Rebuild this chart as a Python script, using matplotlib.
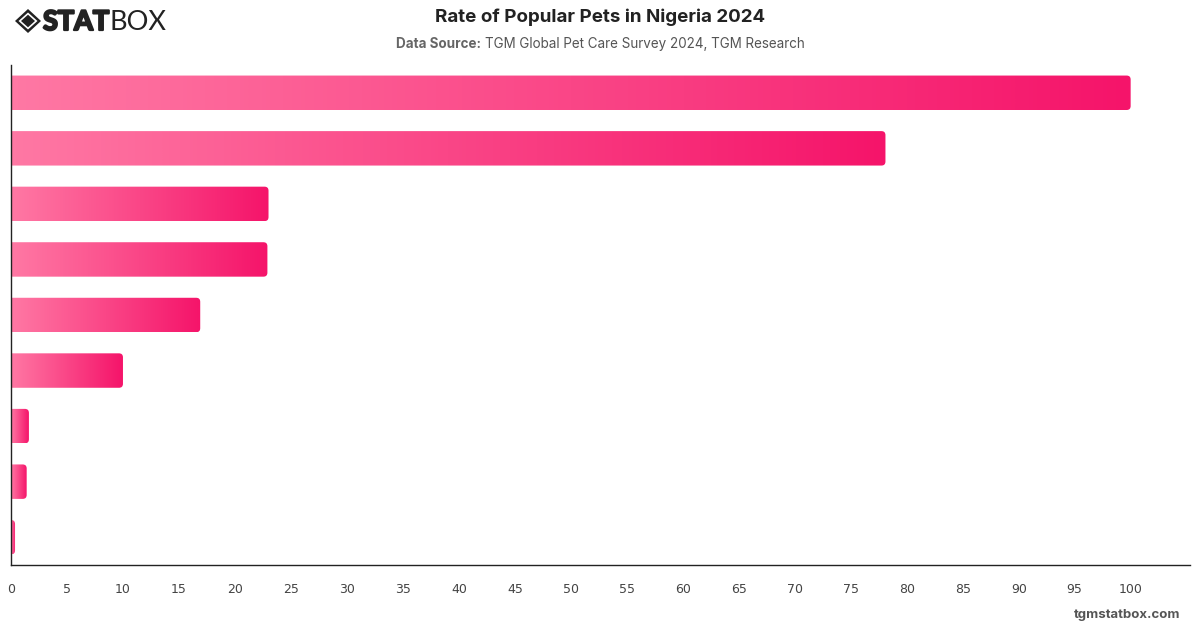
import numpy as np
import matplotlib
matplotlib.use('Agg')
import matplotlib.pyplot as plt
import matplotlib.patheffects as pe
from matplotlib.patches import FancyBboxPatch, Polygon
from matplotlib.colors import LinearSegmentedColormap

# values, top bar first
pets = ['Dog', 'Cat', 'Fish', 'Bird', 'Rabbit', 'Other', 'Reptile', 'Hamster', 'Horse']
rate = [100, 78.1, 23.0, 22.9, 16.9, 10.0, 1.6, 1.4, 0.36]
x_ticks = list(range(0, 101, 5))

W, H = 1200, 628
fig = plt.figure(figsize=(W / 100, H / 100), dpi=100)
fig.patch.set_facecolor('white')

ax = fig.add_axes([11 / W, (H - 565) / H, 1179 / W, 500 / H])
n = len(pets)
xmax = 105.3
ax.set_xlim(0, xmax)
ax.set_ylim(n - 0.5, -0.5)

cmap = LinearSegmentedColormap.from_list('pk', ['#ff78a4', '#f5146a'])
grad = np.linspace(0, 1, 256).reshape(1, -1)
bh = 0.62
# rounding radius about 4 px each way
px_x = xmax / 1179
px_y = n / 500
r = 4 * px_x
aspect = px_y / px_x

bars = ax.barh(range(n), rate, height=bh, color='none')
for i, b in enumerate(bars):
    v = rate[i]
    y0 = b.get_y()
    patch = FancyBboxPatch((-1.5, y0), v + 1.5, bh,
                           boxstyle='round,pad=0,rounding_size=%f' % r,
                           mutation_aspect=aspect, facecolor='none',
                           edgecolor='none')
    ax.add_patch(patch)
    im = ax.imshow(grad, extent=[0, v, y0 + bh, y0], aspect='auto',
                   cmap=cmap, interpolation='bicubic', zorder=2)
    im.set_clip_path(patch)

ax.set_xlim(0, xmax)
ax.set_ylim(n - 0.5, -0.5)
ax.set_xticks(x_ticks)
ax.set_yticks([])
ax.tick_params(axis='x', length=0, pad=13, labelsize=9, labelcolor='#444444')
for s in ['top', 'right']:
    ax.spines[s].set_visible(False)
for s in ['left', 'bottom']:
    ax.spines[s].set_color('#222222')
    ax.spines[s].set_linewidth(1.0)

# overlay in pixel coords for title, logo and watermark
ov = fig.add_axes([0, 0, 1, 1], facecolor='none')
ov.set_xlim(0, W)
ov.set_ylim(H, 0)
ov.axis('off')

ov.text(600, 17, 'Rate of Popular Pets in Nigeria 2024', ha='center', va='center',
        fontsize=13.5, fontweight='bold', color='#222222', family='Inter')

# subtitle: bold lead-in + normal text, centred together
rend = fig.canvas.get_renderer()
t1 = ov.text(0, 44, 'Data Source:', ha='left', va='center', fontsize=9.7,
             fontweight='bold', color='#666666', family='Inter')
t2 = ov.text(0, 44, 'TGM Global Pet Care Survey 2024, TGM Research', ha='left',
             va='center', fontsize=9.7, color='#555555', family='Inter')
w1 = t1.get_window_extent(rend).width
w2 = t2.get_window_extent(rend).width
gap = 4
x0 = 600 - (w1 + gap + w2) / 2
t1.set_x(x0)
t2.set_x(x0 + w1 + gap)

ov.text(1180, 615, 'tgmstatbox.com', ha='right', va='center', fontsize=9.5,
        fontweight='bold', color='#555555', family='Inter')

# logo
cx, cy = 28, 21
ov.add_patch(Polygon([(cx - 13, cy), (cx, cy - 12), (cx + 13, cy), (cx, cy + 12)],
                     closed=True, facecolor='#222222', edgecolor='none'))
ov.add_patch(Polygon([(cx - 9.5, cy), (cx, cy - 8.5), (cx + 9.5, cy), (cx, cy + 8.5)],
                     closed=True, facecolor='white', edgecolor='none'))
ov.add_patch(Polygon([(cx - 7, cy), (cx, cy - 6.3), (cx + 7, cy), (cx, cy + 6.3)],
                     closed=True, facecolor='#222222', edgecolor='none'))
ov.text(43, 22, 'STAT', ha='left', va='center', fontsize=19.5, fontweight='bold',
        color='#222222', family='Lato',
        path_effects=[pe.withStroke(linewidth=1.6, foreground='#222222')])
ov.text(110, 22, 'BOX', ha='left', va='center', fontsize=19.5, fontweight='normal',
        color='#222222', family='Lato')

fig.savefig('out.png', dpi=100)
